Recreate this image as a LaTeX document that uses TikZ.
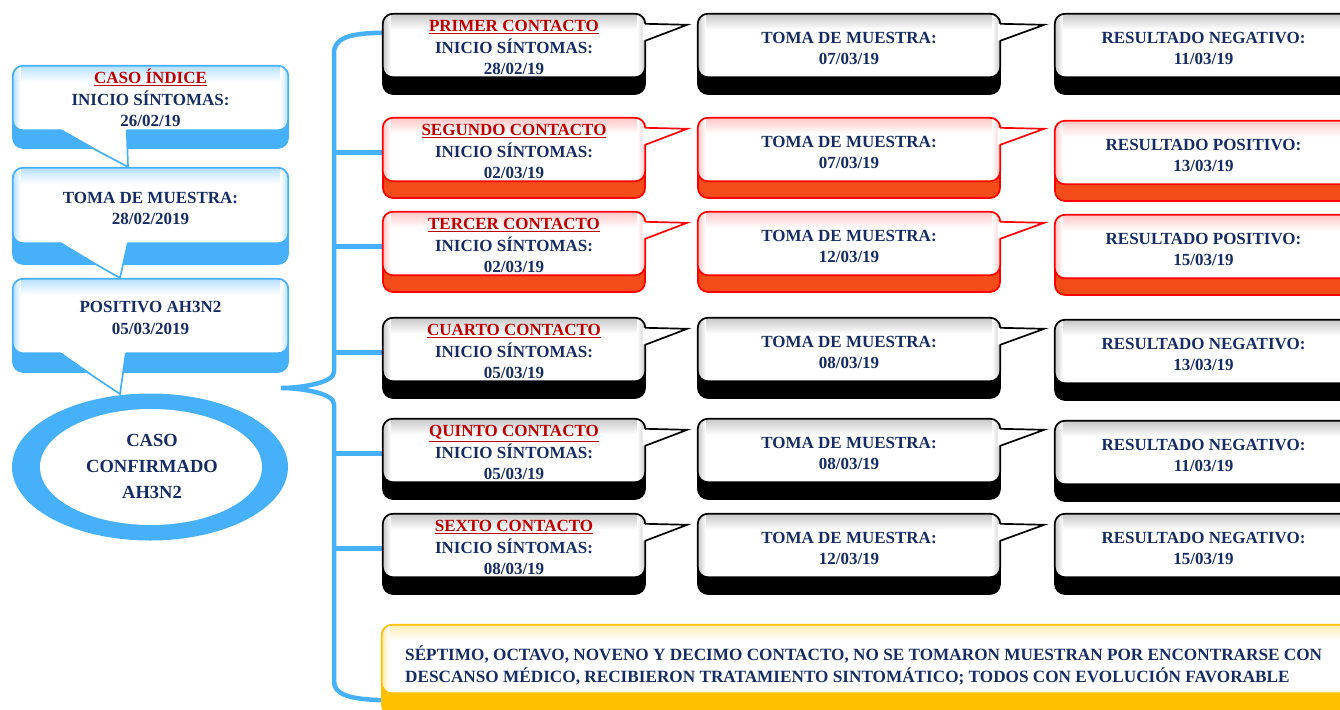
\documentclass[tikz,border=0pt]{standalone}
\usepackage{fontspec}
\setmainfont{Liberation Serif}
\usetikzlibrary{fit,shapes.geometric,backgrounds}
\definecolor{navy}{RGB}{22,44,100}
\definecolor{dred}{RGB}{192,0,0}
\definecolor{skyb}{RGB}{70,176,250}
\colorlet{bkbd}{black}\colorlet{bkbn}{black}\colorlet{bktn}{black!22}
\colorlet{rdbd}{red}\definecolor{rdbn}{RGB}{243,75,25}\colorlet{rdtn}{red!22}
\colorlet{blbd}{skyb}\colorlet{blbn}{skyb}\colorlet{bltn}{skyb!40}
\definecolor{ylbd}{RGB}{255,192,0}\colorlet{ylbn}{ylbd}\colorlet{yltn}{ylbd!30}
% #1 name, #2 x1, #3 top, #4 x2, #5 face bottom, #6 band bottom, #7 scheme
\newcommand\callbox[7]{%
  \draw[draw=#7bd, fill=#7bn, line width=1.7, rounded corners=10] (#2,#3) rectangle (#4,#6);
  \node[fit={(#2,#3) (#4,#5)}, inner sep=0pt] (#1) {};
  \fill[white, rounded corners=10] (#1.north west) rectangle (#1.south east);
  \begin{scope}
    \clip[rounded corners=10] (#1.north west) rectangle (#1.south east);
    \shade[top color=#7tn, bottom color=white] (#1.north west) rectangle ([yshift=-16pt]#1.north east);
    \shade[left color=#7tn, right color=white] (#1.north west) rectangle ([xshift=8pt]#1.south west);
    \shade[right color=#7tn, left color=white] ([xshift=-8pt]#1.north east) rectangle (#1.south east);
  \end{scope}
  \draw[draw=#7bd, line width=1.7, rounded corners=10] (#1.north west) rectangle (#1.south east);
}
% right tail: #1 face, #2 tip, #3 scheme
\newcommand\tailR[3]{%
  \fill[white] ([xshift=-2.5pt,yshift=-10pt]#1.north east) -- (#2) -- ([xshift=-2.5pt,yshift=-27pt]#1.north east) -- cycle;
  \draw[#3bd, line width=1.7, line join=miter] ([yshift=-10pt]#1.north east) -- (#2) -- ([yshift=-27pt]#1.north east);
}
% down tail: #1 face, #2 left offset, #3 right offset, #4 tip
\newcommand\tailD[4]{%
  \fill[white] ([xshift=#2pt,yshift=2.5pt]#1.south west) -- (#4) -- ([xshift=#3pt,yshift=2.5pt]#1.south west) -- cycle;
  \draw[blbd, line width=1.7, line join=miter] ([xshift=#2pt]#1.south west) -- (#4) -- ([xshift=#3pt]#1.south west);
}
% #1 id, #2 top, #3 scheme, #4 title, #5 date1, #6 date2, #7 result, #8 date3, #9 col3 offset
\newcommand\contactrow[9]{%
  \callbox{a#1}{383}{#2}{645}{#2+63}{#2+80}{#3}
  \coordinate (pa#1) at ([xshift=42pt,yshift=-11pt]a#1.north east);
  \tailR{a#1}{pa#1}{#3}
  \callbox{b#1}{698}{#2}{1000}{#2+63}{#2+80}{#3}
  \coordinate (pb#1) at ([xshift=44pt,yshift=-11pt]b#1.north east);
  \tailR{b#1}{pb#1}{#3}
  \callbox{c#1}{1055}{#2+#9}{1352}{#2+#9+63}{#2+#9+80}{#3}
  \node[txt] (ta#1) at ([yshift=-2pt]a#1.center) {\textcolor{dred}{\underline{#4}}\\INICIO SÍNTOMAS:\\#5};
  \node[txt] (tb#1) at ([yshift=-3pt]b#1.center) {TOMA DE MUESTRA:\\#6};
  \node[txt] (tc#1) at ([yshift=-3pt]c#1.center) {RESULTADO #7:\\#8};
}
\begin{document}
\begin{tikzpicture}[x=1pt,y=-1pt,
  txt/.style={font=\bfseries\fontsize{17}{21.5}\selectfont, text=navy, align=center, inner sep=0pt},
  bracel/.style={draw=skyb, line width=4.5}]
\useasboundingbox (0,0) rectangle (1340,709);
% left column
\callbox{ci}{13}{66}{288}{130}{148}{bl}
\coordinate (k1) at (128,167);
\tailD{ci}{46}{114}{k1}
\callbox{tm}{13}{168}{288}{243}{264}{bl}
\coordinate (k2) at (120,278);
\tailD{tm}{46}{115}{k2}
\callbox{pa}{13}{279}{288}{353}{372}{bl}
\node[ellipse, fill=skyb, minimum width=276pt, minimum height=147pt, inner sep=0pt] (conf) at (150,467) {};
\node[ellipse, fill=white, minimum width=222pt, minimum height=116pt, inner sep=0pt] (confin) at (151,467) {};
\coordinate (k3) at (120,394);
\tailD{pa}{46}{113}{k3}
\node[txt] (tci) at ([yshift=0pt]ci.center) {\textcolor{dred}{\underline{CASO ÍNDICE}}\\INICIO SÍNTOMAS:\\26/02/19};
\node[txt] (ttm) at ([yshift=-3pt]tm.center) {TOMA DE MUESTRA:\\28/02/2019};
\node[txt] (tpa) at ([yshift=-2pt]pa.center) {POSITIVO AH3N2\\05/03/2019};
\node[txt, font=\bfseries\fontsize{18.5}{26}\selectfont] (tconf) at (152,466) {CASO\\CONFIRMADO\\AH3N2};
% contacts
\contactrow{1}{14}{bk}{PRIMER CONTACTO}{28/02/19}{07/03/19}{NEGATIVO}{11/03/19}{0}
\contactrow{2}{118}{rd}{SEGUNDO CONTACTO}{02/03/19}{07/03/19}{POSITIVO}{13/03/19}{3}
\contactrow{3}{212}{rd}{TERCER CONTACTO}{02/03/19}{12/03/19}{POSITIVO}{15/03/19}{3}
\contactrow{4}{318}{bk}{CUARTO CONTACTO}{05/03/19}{08/03/19}{NEGATIVO}{13/03/19}{2}
\contactrow{5}{419}{bk}{QUINTO CONTACTO}{05/03/19}{08/03/19}{NEGATIVO}{11/03/19}{2}
\contactrow{6}{514}{bk}{SEXTO CONTACTO}{08/03/19}{12/03/19}{NEGATIVO}{15/03/19}{0}
\callbox{y7}{382}{625}{1352}{693}{715}{yl}
\node[txt, align=left, anchor=west, font=\bfseries\fontsize{17.2}{22}\selectfont] (ty7) at (405,665) {SÉPTIMO, OCTAVO, NOVENO Y DECIMO CONTACTO, NO SE TOMARON MUESTRAN POR ENCONTRARSE CON\\DESCANSO MÉDICO, RECIBIERON TRATAMIENTO SINTOMÁTICO; TODOS CON EVOLUCIÓN FAVORABLE};
% brace
\begin{scope}[on background layer]
\coordinate (sp) at (334,0);
\coordinate (btip) at (281,388);
\coordinate (btop) at ([yshift=-19pt]a1.north west);
\coordinate (bbot) at ([yshift=-7pt]y7.south west);
\draw[bracel] (btop) .. controls (350,33) and (334,38) .. (334,53) -- (334,372)
  .. controls (334,383) and (300,388) .. (btip)
  .. controls (300,388) and (334,393) .. (334,404) -- (334,681)
  .. controls (334,695) and (350,699) .. (bbot);
\foreach \r in {2,...,6} \draw[bracel] ([yshift=-3pt]sp |- a\r.west) -- ([yshift=-3pt]a\r.west);
\end{scope}
\end{tikzpicture}
\end{document}
